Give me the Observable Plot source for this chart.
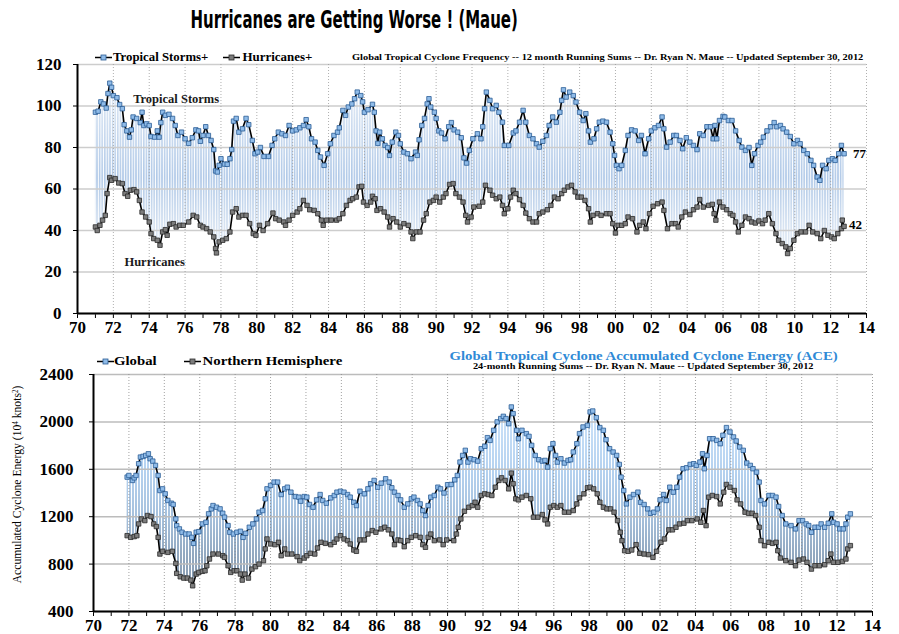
<!DOCTYPE html>
<html><head><meta charset="utf-8">
<script src="https://cdn.jsdelivr.net/npm/d3@7"></script>
<script src="https://cdn.jsdelivr.net/npm/@observablehq/plot@0.6"></script>
<style>
html,body{margin:0;padding:0;background:#fff}
body{width:899px;height:634px;overflow:hidden;position:relative;font-family:"Liberation Serif",serif}
.abs{position:absolute;white-space:nowrap;line-height:1}
.chart{position:absolute;left:0}
</style></head><body>
<script>
// ---------- DATA: Global Tropical Cyclone Frequency (12-month running sums) ----------
const tsYears = [1971.0,1971.15,1971.3,1971.45,1971.6,1971.7,1971.8,1971.9,1972.0,1972.2,1972.35,1972.5,1972.6,1972.75,1972.9,1973.0,1973.1,1973.3,1973.5,1973.6,1973.7,1973.85,1974.0,1974.1,1974.3,1974.45,1974.55,1974.65,1974.75,1974.9,1975.1,1975.3,1975.45,1975.6,1975.8,1976.0,1976.2,1976.4,1976.6,1976.75,1976.85,1977.0,1977.15,1977.3,1977.45,1977.6,1977.7,1977.8,1977.9,1978.0,1978.2,1978.35,1978.5,1978.6,1978.7,1978.85,1979.0,1979.2,1979.4,1979.55,1979.75,1979.9,1980.05,1980.2,1980.4,1980.65,1980.85,1981.0,1981.2,1981.4,1981.6,1981.8,1982.0,1982.2,1982.4,1982.6,1982.75,1982.9,1983.05,1983.25,1983.4,1983.55,1983.75,1983.95,1984.1,1984.3,1984.5,1984.6,1984.8,1984.95,1985.1,1985.3,1985.45,1985.6,1985.8,1985.9,1986.0,1986.2,1986.45,1986.55,1986.65,1986.75,1986.85,1987.0,1987.15,1987.3,1987.4,1987.55,1987.75,1987.9,1988.0,1988.2,1988.4,1988.6,1988.85,1988.95,1989.05,1989.2,1989.35,1989.5,1989.6,1989.7,1989.9,1990.0,1990.15,1990.3,1990.5,1990.7,1990.85,1991.0,1991.2,1991.4,1991.55,1991.7,1991.85,1992.05,1992.3,1992.5,1992.6,1992.7,1992.8,1993.0,1993.15,1993.35,1993.5,1993.7,1993.8,1994.05,1994.3,1994.45,1994.65,1994.85,1995.0,1995.2,1995.4,1995.6,1995.75,1995.95,1996.15,1996.3,1996.5,1996.7,1996.9,1997.0,1997.1,1997.25,1997.45,1997.65,1997.8,1998.0,1998.2,1998.35,1998.5,1998.6,1998.8,1998.95,1999.1,1999.3,1999.5,1999.7,1999.85,1999.95,2000.05,2000.2,2000.35,2000.55,2000.7,2000.9,2001.1,2001.3,2001.45,2001.65,2001.85,2002.0,2002.2,2002.4,2002.6,2002.7,2002.85,2003.05,2003.25,2003.4,2003.6,2003.75,2003.95,2004.15,2004.35,2004.55,2004.7,2004.9,2005.1,2005.3,2005.45,2005.55,2005.65,2005.8,2006.0,2006.1,2006.3,2006.5,2006.7,2006.9,2007.05,2007.25,2007.45,2007.6,2007.75,2007.95,2008.1,2008.25,2008.45,2008.65,2008.85,2009.0,2009.2,2009.35,2009.55,2009.75,2009.95,2010.15,2010.3,2010.5,2010.7,2010.9,2011.05,2011.25,2011.4,2011.55,2011.75,2011.9,2012.1,2012.25,2012.45,2012.6,2012.75];
const tsValues = [97,97.5,102,101,99,106,111,109,105,104,100.7,98.7,91,88,85,88.5,94.7,94,92,97,90.6,91.4,90.6,85.3,85,88,85,92,97,95.5,96,94,90.6,85.8,87.4,84.2,82,84.7,88.5,88,83,85.8,90,85.8,83.4,79,68.7,68.2,71.4,74.6,72,71.9,74.6,79,92.7,94,87.4,89,94,91,83.4,77,77.8,80,75.7,75.7,81,84.2,87.4,86.6,85.8,90.6,88,88.5,89.5,90.6,93.4,90,84.2,82.6,78.6,75.4,71.4,77,81.8,85.8,87.4,89.5,97.9,95.5,99.5,101,103.5,106.7,105,102,97,98.2,100.8,97,88,82,87.4,84.2,81,80,76.2,82.6,87.4,85.8,81.8,77.8,77,74.6,77.8,76.2,83.7,90.6,94,101,103.5,99.5,97,94,88,87,84.2,90,92,88.5,87.4,84.7,75,72.5,78.6,84.2,86.6,84.2,90,98.7,106.7,102.7,98.7,100.3,97,92.2,81,81,87,88,92.2,97.9,92.2,85.8,84.2,81.8,80.2,83,85.8,90.6,94.7,92.2,97,102.7,107.8,104.3,106.7,105,101.9,97,93,96.3,88,82.6,84.2,89,92.2,92.7,92.2,87.4,81.8,76.2,71.4,69.8,71.4,78.6,85.8,88.5,88,83.4,85.8,77,84.2,88,89.5,90.6,94.7,89,80.2,82.6,85.8,85.8,83.4,79.4,84.7,82.6,81,79,86.6,85.8,90,90,84.2,90.6,84.2,93,95,94.7,93,93,88,83.4,80.2,78.6,80,71.4,77,81,82.6,85,88,90,92,90,90.6,89,87.4,85.3,81.8,83.4,81.8,78.6,77,73.8,71.4,65.8,64.2,71.4,69.8,73.8,74.6,73.8,77,81,77];

const huYears = [1971.0,1971.1,1971.25,1971.4,1971.55,1971.65,1971.8,1971.9,1972.1,1972.3,1972.5,1972.65,1972.8,1972.95,1973.15,1973.3,1973.45,1973.6,1973.8,1974.0,1974.1,1974.25,1974.45,1974.6,1974.75,1974.9,1975.0,1975.15,1975.35,1975.5,1975.7,1975.9,1976.2,1976.45,1976.65,1976.85,1977.0,1977.2,1977.4,1977.6,1977.7,1977.75,1977.9,1978.1,1978.3,1978.5,1978.65,1978.85,1979.0,1979.2,1979.4,1979.6,1979.8,1979.95,1980.15,1980.35,1980.6,1980.9,1981.05,1981.25,1981.5,1981.6,1981.8,1982.0,1982.25,1982.4,1982.6,1982.8,1982.95,1983.2,1983.4,1983.6,1983.7,1983.9,1984.15,1984.45,1984.6,1984.8,1985.0,1985.2,1985.35,1985.55,1985.7,1985.85,1985.95,1986.15,1986.35,1986.45,1986.6,1986.7,1986.9,1987.1,1987.3,1987.4,1987.6,1987.8,1988.0,1988.2,1988.45,1988.6,1988.7,1988.9,1989.1,1989.3,1989.45,1989.65,1989.85,1990.0,1990.2,1990.4,1990.55,1990.75,1990.95,1991.1,1991.3,1991.5,1991.65,1991.75,1991.95,1992.1,1992.4,1992.6,1992.75,1993.0,1993.15,1993.35,1993.55,1993.7,1993.8,1994.0,1994.15,1994.3,1994.45,1994.65,1994.85,1995.0,1995.2,1995.4,1995.6,1995.75,1995.95,1996.2,1996.4,1996.6,1996.8,1997.0,1997.15,1997.35,1997.55,1997.75,1997.9,1998.1,1998.3,1998.5,1998.6,1998.75,1999.0,1999.2,1999.5,1999.7,1999.85,2000.0,2000.15,2000.35,2000.55,2000.7,2000.95,2001.2,2001.35,2001.55,2001.7,2001.9,2002.1,2002.35,2002.6,2002.7,2002.9,2003.15,2003.35,2003.5,2003.7,2003.9,2004.15,2004.35,2004.55,2004.7,2004.9,2005.2,2005.4,2005.5,2005.6,2005.8,2006.0,2006.2,2006.4,2006.55,2006.7,2006.85,2007.05,2007.25,2007.45,2007.6,2007.8,2008.0,2008.2,2008.35,2008.55,2008.75,2008.95,2009.1,2009.3,2009.5,2009.6,2009.75,2009.95,2010.15,2010.35,2010.6,2010.8,2011.0,2011.25,2011.45,2011.65,2011.85,2012.05,2012.2,2012.4,2012.6,2012.65,2012.75];
const huValues = [41.7,40,42.5,45,47.3,57.8,65.5,64.2,65,62.9,62.6,57.8,56.5,59.4,59.7,58.6,54.5,48.9,46.5,44.1,38.5,36.1,35.3,32.9,39.3,40.4,37.7,43,43.3,41.7,42.5,42.5,44.1,47.3,46.5,42.5,41.7,40.9,39.3,36.9,31.3,29.2,34.5,35.3,36.1,39.3,48.9,50.5,46.5,47.3,47.3,43.3,38.5,37.7,42.5,40,43.3,48.4,45.7,45,44.1,42.5,45,47.3,48.9,50.5,54.5,52.1,50,49.7,48.1,45,42.5,45,45,45,45.7,48.1,52.1,54.5,55.3,56.1,61,61.3,53.7,52.1,53.7,56.5,55.3,49.7,50.5,48.9,46.5,41.7,45.7,44.1,41.7,43.3,42.5,39.3,36.1,39.3,39.3,45,48.1,53.7,54.5,56.1,53.7,56.1,57.8,62.2,62.6,57.8,56.1,53.7,47.3,44.1,46.5,51.3,51.7,53.7,61.8,59.4,57,55.3,56.1,52.1,48.1,50.5,56.1,59.4,57.8,54.9,52.1,48.4,45.7,44.1,44.1,48.1,48.9,50,52.1,56.1,55.3,57.8,59.4,61,61.8,58.6,56.1,56.1,54.5,50.5,44.1,47.3,48.1,47.3,48.1,48.1,43.3,38.8,42.5,42.5,43.3,46.5,45.7,39.3,42.5,44.1,40.9,48.1,51.7,52.9,53.7,49.7,40.9,43.3,43.3,41.7,46.5,48.9,47.7,50,51.3,54.9,51.3,52.1,52.6,48.1,45,53.7,51.3,50,48.1,47.3,44.1,39.3,42.5,46.5,45.7,44.1,43.6,44.6,43.3,45,48.1,43.3,38.5,35.3,33.7,32.1,28.9,31.3,35.3,38.5,39.3,39.3,42.5,39.3,38.5,36.1,40,37.7,36.9,36.1,38.5,40.9,45,42];

// ---------- DATA: Accumulated Cyclone Energy (24-month running sums) ----------
const glYears = [1971.9,1972.0,1972.2,1972.3,1972.4,1972.55,1972.65,1972.8,1972.95,1973.1,1973.2,1973.35,1973.5,1973.65,1973.75,1973.9,1974.05,1974.2,1974.4,1974.5,1974.65,1974.7,1974.85,1975.0,1975.2,1975.4,1975.55,1975.65,1975.8,1975.95,1976.15,1976.35,1976.5,1976.65,1976.75,1976.95,1977.15,1977.3,1977.4,1977.6,1977.7,1977.9,1978.1,1978.3,1978.45,1978.6,1978.8,1979.0,1979.2,1979.35,1979.55,1979.7,1979.8,1980.0,1980.2,1980.4,1980.6,1980.8,1980.95,1981.15,1981.4,1981.6,1981.7,1981.9,1982.05,1982.2,1982.4,1982.6,1982.8,1982.95,1983.15,1983.4,1983.6,1983.75,1983.95,1984.15,1984.35,1984.5,1984.7,1984.85,1985.05,1985.3,1985.5,1985.65,1985.85,1986.05,1986.25,1986.5,1986.7,1986.85,1987.0,1987.2,1987.35,1987.55,1987.75,1987.95,1988.1,1988.3,1988.45,1988.6,1988.75,1988.9,1989.05,1989.25,1989.45,1989.6,1989.8,1990.0,1990.2,1990.4,1990.55,1990.7,1990.85,1991.0,1991.15,1991.3,1991.5,1991.7,1991.9,1992.1,1992.25,1992.4,1992.6,1992.8,1993.0,1993.15,1993.3,1993.45,1993.6,1993.7,1993.9,1994.0,1994.2,1994.45,1994.6,1994.75,1994.95,1995.15,1995.35,1995.5,1995.65,1995.8,1995.95,1996.1,1996.2,1996.4,1996.6,1996.8,1996.95,1997.1,1997.3,1997.45,1997.65,1997.9,1998.05,1998.2,1998.4,1998.6,1998.8,1998.95,1999.15,1999.35,1999.55,1999.7,1999.8,1999.95,2000.1,2000.3,2000.5,2000.75,2000.9,2001.1,2001.3,2001.45,2001.65,2001.85,2002.0,2002.2,2002.35,2002.55,2002.75,2002.95,2003.1,2003.3,2003.5,2003.7,2003.9,2004.05,2004.25,2004.4,2004.5,2004.65,2004.8,2005.0,2005.2,2005.4,2005.55,2005.75,2005.95,2006.15,2006.3,2006.5,2006.7,2006.9,2007.1,2007.25,2007.45,2007.6,2007.7,2007.9,2008.15,2008.35,2008.55,2008.7,2008.9,2009.1,2009.4,2009.65,2009.85,2010.05,2010.25,2010.4,2010.55,2010.75,2010.95,2011.1,2011.3,2011.5,2011.7,2011.8,2012.0,2012.15,2012.35,2012.5,2012.6,2012.75];
const glValues = [1534,1548,1506,1528,1548,1647,1703,1709,1717,1731,1689,1669,1633,1548,1421,1435,1393,1337,1314,1303,1181,1125,1097,1069,1054,1054,1026,975,1069,1074,1139,1153,1224,1266,1294,1280,1266,1229,1196,1125,1069,1054,1069,1077,1026,1060,1111,1139,1181,1238,1252,1351,1435,1464,1492,1492,1387,1435,1449,1407,1370,1365,1331,1370,1365,1303,1280,1342,1387,1337,1314,1359,1379,1407,1415,1407,1387,1365,1322,1294,1415,1393,1435,1478,1506,1449,1483,1520,1492,1444,1407,1379,1342,1280,1308,1351,1365,1337,1308,1252,1210,1294,1365,1379,1449,1435,1400,1470,1472,1511,1548,1661,1717,1760,1661,1689,1681,1669,1774,1794,1867,1844,1929,2000,2028,2047,2028,1985,2126,2070,1929,1858,1929,1901,1878,1802,1717,1681,1669,1675,1619,1774,1816,1717,1661,1689,1653,1675,1681,1746,1816,1901,1957,1971,2084,2092,2036,1952,1929,1850,1774,1746,1717,1641,1534,1421,1308,1365,1387,1407,1322,1303,1266,1229,1238,1266,1342,1387,1337,1449,1407,1449,1534,1605,1613,1641,1647,1633,1661,1731,1605,1717,1858,1858,1844,1816,1887,1952,1915,1873,1839,1788,1760,1653,1633,1605,1576,1492,1337,1308,1379,1379,1365,1286,1210,1139,1125,1097,1167,1167,1139,1125,1069,1111,1111,1139,1111,1145,1224,1153,1139,1097,1097,1139,1196,1224];

const nhYears = [1971.9,1972.1,1972.3,1972.45,1972.55,1972.7,1972.9,1973.05,1973.25,1973.4,1973.55,1973.65,1973.75,1973.9,1974.2,1974.45,1974.65,1974.7,1974.9,1975.1,1975.3,1975.5,1975.6,1975.8,1975.95,1976.15,1976.3,1976.4,1976.55,1976.75,1977.05,1977.3,1977.4,1977.6,1977.75,1977.95,1978.1,1978.3,1978.4,1978.55,1978.75,1978.95,1979.15,1979.35,1979.6,1979.7,1979.8,1980.0,1980.25,1980.45,1980.6,1980.8,1980.95,1981.2,1981.5,1981.65,1981.9,1982.05,1982.25,1982.5,1982.65,1982.85,1983.1,1983.4,1983.6,1983.75,1983.95,1984.15,1984.35,1984.5,1984.7,1984.85,1985.05,1985.3,1985.5,1985.75,1985.95,1986.25,1986.45,1986.65,1986.85,1987.0,1987.2,1987.35,1987.55,1987.75,1987.95,1988.2,1988.45,1988.6,1988.75,1988.9,1989.05,1989.25,1989.55,1989.75,1989.95,1990.35,1990.5,1990.6,1990.75,1990.95,1991.2,1991.4,1991.55,1991.7,1991.9,1992.1,1992.3,1992.5,1992.7,1992.9,1993.05,1993.25,1993.45,1993.6,1993.7,1993.85,1994.0,1994.2,1994.45,1994.7,1994.85,1995.1,1995.35,1995.5,1995.65,1995.8,1996.0,1996.2,1996.4,1996.6,1996.85,1997.1,1997.3,1997.45,1997.7,1997.9,1998.05,1998.25,1998.45,1998.6,1998.8,1999.0,1999.2,1999.4,1999.6,1999.75,1999.85,2000.0,2000.2,2000.4,2000.65,2000.85,2001.1,2001.35,2001.6,2001.8,2002.05,2002.25,2002.5,2002.7,2002.9,2003.1,2003.35,2003.55,2003.8,2004.1,2004.3,2004.45,2004.6,2004.75,2004.95,2005.2,2005.4,2005.6,2005.75,2005.95,2006.2,2006.35,2006.55,2006.8,2007.0,2007.2,2007.4,2007.6,2007.7,2007.9,2008.15,2008.35,2008.55,2008.65,2008.8,2009.1,2009.4,2009.65,2009.85,2010.1,2010.3,2010.55,2010.75,2011.0,2011.3,2011.5,2011.65,2011.8,2012.05,2012.3,2012.5,2012.6,2012.75];
const nhValues = [1040,1026,1032,1040,1139,1181,1167,1210,1201,1139,1117,1026,885,908,899,908,806,722,693,682,682,665,617,716,730,739,744,786,843,885,885,871,857,786,730,744,744,716,665,716,682,758,778,800,829,928,1012,970,964,984,871,928,885,885,863,829,851,871,891,885,936,984,975,964,984,1012,1040,1012,998,970,919,908,1004,1004,1054,1083,1069,1097,1111,1089,1054,964,1004,998,947,998,1026,1040,1026,964,942,1026,1054,998,1004,964,1004,998,1054,1111,1181,1246,1280,1294,1322,1280,1379,1393,1387,1379,1449,1506,1528,1506,1435,1568,1478,1351,1342,1365,1379,1351,1196,1196,1218,1173,1139,1280,1294,1280,1294,1238,1238,1252,1308,1359,1393,1444,1449,1435,1393,1322,1280,1266,1266,1238,1167,1069,998,913,908,919,964,891,885,880,857,908,984,1012,1089,1089,1111,1139,1145,1167,1167,1181,1153,1252,1125,1365,1379,1370,1308,1407,1472,1449,1421,1342,1308,1238,1229,1229,1210,1111,998,956,984,975,984,913,851,829,815,786,834,843,815,758,786,786,795,829,885,815,815,823,843,928,956];

// ---------- ticks / labels ----------
const xDomain = [1970, 2014];
const xLabelYears = [1970,1972,1974,1976,1978,1980,1982,1984,1986,1988,1990,1992,1994,1996,1998,2000,2002,2004,2006,2008,2010,2012,2014];
const xMinorYears = d3.range(1970, 2015);
const freqTicks = [0,20,40,60,80,100,120];
const aceTicks = [400,800,1200,1600,2000,2400];
const fmtYear = d => (d % 2 === 0 ? String(d % 100).padStart(2, "0") : "");
const fmtPlain = d => String(d);

const zip = (xs, ys) => xs.map((x, i) => ({year: x, value: ys[i]}));
const ts = zip(tsYears, tsValues), hu = zip(huYears, huValues);
const gl = zip(glYears, glValues), nh = zip(nhYears, nhValues);

const BLUE_FILL = "#8fbbe8", BLUE_STROKE = "#2b5d95";
const GRAY_FILL = "#7d7d7d", GRAY_STROKE = "#2a2a2a";

function addDefs(svg, id, h, stops, stripe, gap) {
  const ns = "http://www.w3.org/2000/svg";
  const defs = document.createElementNS(ns, "defs");
  defs.innerHTML =
    `<linearGradient id="${id}G" gradientUnits="userSpaceOnUse" x1="0" y1="0" x2="0" y2="${h}">` +
    stops.map(([o, c]) => `<stop offset="${o}" stop-color="${c}"/>`).join("") +
    `</linearGradient>` +
    `<pattern id="${id}" patternUnits="userSpaceOnUse" x="0" y="0" width="${stripe + gap}" height="${h}">` +
    `<rect x="0" y="0" width="${stripe + gap}" height="${h}" fill="#ffffff"/>` +
    `<rect x="0" y="0" width="${stripe}" height="${h}" fill="url(#${id}G)"/></pattern>`;
  svg.insertBefore(defs, svg.firstChild);
}

const axisStyle = {fontFamily: "'Liberation Serif', serif", fontSize: "17px", fontWeight: "bold", color: "#000", background: "transparent", overflow: "visible"};

// ---------- TOP CHART ----------
const topH = 295;
const topChart = Plot.plot({
  width: 899, height: topH,
  marginLeft: 77, marginRight: 33, marginTop: 19, marginBottom: 27,
  style: axisStyle,
  x: {domain: xDomain, ticks: xMinorYears, tickFormat: fmtYear, tickSize: 5, tickPadding: 2, label: null},
  y: {domain: [0, 120], ticks: freqTicks, tickFormat: fmtPlain, tickSize: 4, tickPadding: 12, label: null},
  marks: [
    Plot.areaY(ts, {x: "year", y: "value", fill: "url(#topStripes)"}),
    Plot.areaY(hu, {x: "year", y: "value", fill: "#ffffff", stroke: "#ffffff", strokeWidth: 1.5}),
    Plot.ruleY(freqTicks, {stroke: "#cdcdcd", strokeWidth: 1.4}),
    Plot.ruleX(xLabelYears, {stroke: "#9a9a9a", strokeWidth: 0.8, strokeDasharray: "1,2"}),
    Plot.ruleY([0], {stroke: "#000", strokeWidth: 2}),
    Plot.ruleX([xDomain[0]], {stroke: "#000", strokeWidth: 2}),
    Plot.line(ts, {x: "year", y: "value", stroke: "#000", strokeWidth: 1.6}),
    Plot.line(hu, {x: "year", y: "value", stroke: "#000", strokeWidth: 1.6}),
    Plot.dot(ts, {x: "year", y: "value", symbol: "square", r: 2.5, fill: BLUE_FILL, stroke: BLUE_STROKE, strokeWidth: 0.8}),
    Plot.dot(hu, {x: "year", y: "value", symbol: "square", r: 2.5, fill: GRAY_FILL, stroke: GRAY_STROKE, strokeWidth: 0.8}),
    Plot.text(ts.slice(-1), {x: "year", y: "value", text: d => String(Math.round(d.value)), textAnchor: "start", dx: 9, fontSize: 13, fontWeight: "bold"}),
    Plot.text(hu.slice(-1), {x: "year", y: "value", text: d => String(Math.round(d.value)), textAnchor: "start", dx: 5, dy: -2, fontSize: 13, fontWeight: "bold"}),
    Plot.text([{year: 1975.5, value: 103.6, t: "Tropical Storms"}, {year: 1974.3, value: 24.6, t: "Hurricanes"}],
      {x: "year", y: "value", text: "t", fontSize: 12.5, fontWeight: "bold", fill: "#1a1a1a"})
  ]
});
addDefs(topChart, "topStripes", topH,
  [[0, "#eef3fa"], [0.17, "#dce7f4"], [0.45, "#afc8e7"], [0.64, "#dae5f2"], [1, "#eef3fa"]], 1.6, 1);
topChart.classList.add("chart");
topChart.style.top = "45px";
document.body.appendChild(topChart);

// ---------- BOTTOM CHART ----------
const botH = 289;
const botChart = Plot.plot({
  width: 899, height: botH,
  marginLeft: 93, marginRight: 27, marginTop: 29, marginBottom: 23,
  style: axisStyle,
  x: {domain: xDomain, ticks: xMinorYears, tickFormat: fmtYear, tickSize: 5, tickPadding: 2, label: null},
  y: {domain: [400, 2400], ticks: aceTicks, tickFormat: fmtPlain, tickSize: 4, tickPadding: 16, label: null},
  marks: [
    Plot.areaY(gl, {x: "year", y1: 400, y2: "value", fill: "url(#botStripes)"}),
    Plot.areaY(nh, {x: "year", y1: 400, y2: "value", fill: "#ffffff", stroke: "#ffffff", strokeWidth: 1.5}),
    Plot.ruleY(aceTicks, {stroke: "#bcbcbc", strokeWidth: 1.5}),
    Plot.ruleX(xLabelYears, {stroke: "#8a8a8a", strokeWidth: 0.8, strokeDasharray: "1,2"}),
    Plot.ruleY([400], {stroke: "#000", strokeWidth: 2}),
    Plot.ruleX([xDomain[0]], {stroke: "#000", strokeWidth: 2}),
    Plot.line(gl, {x: "year", y: "value", stroke: "#000", strokeWidth: 1.6}),
    Plot.line(nh, {x: "year", y: "value", stroke: "#000", strokeWidth: 1.6}),
    Plot.dot(gl, {x: "year", y: "value", symbol: "square", r: 2.5, fill: BLUE_FILL, stroke: BLUE_STROKE, strokeWidth: 0.8}),
    Plot.dot(nh, {x: "year", y: "value", symbol: "square", r: 2.5, fill: GRAY_FILL, stroke: GRAY_STROKE, strokeWidth: 0.8})
  ]
});
addDefs(botChart, "botStripes", botH,
  [[0, "#dcecfb"], [0.26, "#cae1f8"], [0.43, "#b5d2f0"], [0.59, "#a6c1dd"], [0.72, "#93a9c1"], [0.9, "#8293a7"], [1, "#8293a7"]], 2, 1);
botChart.classList.add("chart");
botChart.style.top = "345px";
document.body.appendChild(botChart);

// ---------- TEXT: title, legends, subtitles ----------
function place(html, o) {
  const el = document.createElement("div");
  el.className = "abs";
  el.innerHTML = html;
  el.style.font = o.font;
  el.style.color = o.color || "#000";
  document.body.appendChild(el);
  const w = el.offsetWidth, h = el.offsetHeight;
  const sx = o.width ? o.width / w : 1;
  const cx = o.cx !== undefined ? o.cx : o.left + (o.width || w) / 2;
  el.style.left = (cx - w / 2) + "px";
  el.style.top = (o.cy - h / 2) + "px";
  el.style.transformOrigin = "50% 50%";
  el.style.transform = (o.rotate ? `rotate(${o.rotate}deg) ` : "") + `scaleX(${sx})`;
  return el;
}
function glyph(fill, stroke) {
  return `<svg width="17" height="9" style="display:block"><line x1="0" y1="4.5" x2="17" y2="4.5" stroke="#000" stroke-width="1.5"/>` +
    `<rect x="6" y="2" width="5" height="5" fill="${fill}" stroke="${stroke}" stroke-width="0.8"/></svg>`;
}
const serifB = s => `bold ${s}px 'Liberation Serif', serif`;

place("Hurricanes are Getting Worse ! (Maue)", {left: 190, width: 327, cy: 19,
  font: "bold 25px 'Liberation Sans Narrow', 'DejaVu Sans Condensed', 'Liberation Sans', sans-serif"});

// top legend + subtitle
place(glyph(BLUE_FILL, BLUE_STROKE), {left: 95, cy: 57, font: "10px sans-serif"});
place("Tropical Storms+", {left: 113, width: 95, cy: 57, font: serifB(12)});
place(glyph(GRAY_FILL, GRAY_STROKE), {left: 223, cy: 57, font: "10px sans-serif"});
place("Hurricanes+", {left: 242, width: 70, cy: 57, font: serifB(12)});
place("Global Tropical Cyclone Frequency -- 12 month Running Sums -- Dr. Ryan N. Maue -- Updated September 30, 2012",
  {left: 352, width: 511, cy: 57, font: serifB(9)});

// bottom legend + titles
place(glyph(BLUE_FILL, BLUE_STROKE), {left: 97, cy: 361, font: "10px sans-serif"});
place("Global", {left: 114, width: 43, cy: 361, font: serifB(12)});
place(glyph(GRAY_FILL, GRAY_STROKE), {left: 184, cy: 361, font: "10px sans-serif"});
place("Northern Hemisphere", {left: 202, width: 140, cy: 361, font: serifB(12)});
place("Global Tropical Cyclone Accumulated Cyclone Energy (ACE)", {left: 449, width: 388, cy: 356, font: serifB(12.5), color: "#2f8ad6"});
place("24-month Running Sums -- Dr. Ryan N. Maue -- Updated September 30, 2012", {left: 473, width: 340, cy: 366, font: serifB(8.5)});
place("Accumulated Cyclone Energy (10<sup style='font-size:0.6em;vertical-align:0.5em'>4</sup> knots<sup style='font-size:0.6em;vertical-align:0.5em'>2</sup>)",
  {cx: 18, width: 198, cy: 484, rotate: -90, font: "12px 'Liberation Serif', serif"});
</script>
</body></html>
